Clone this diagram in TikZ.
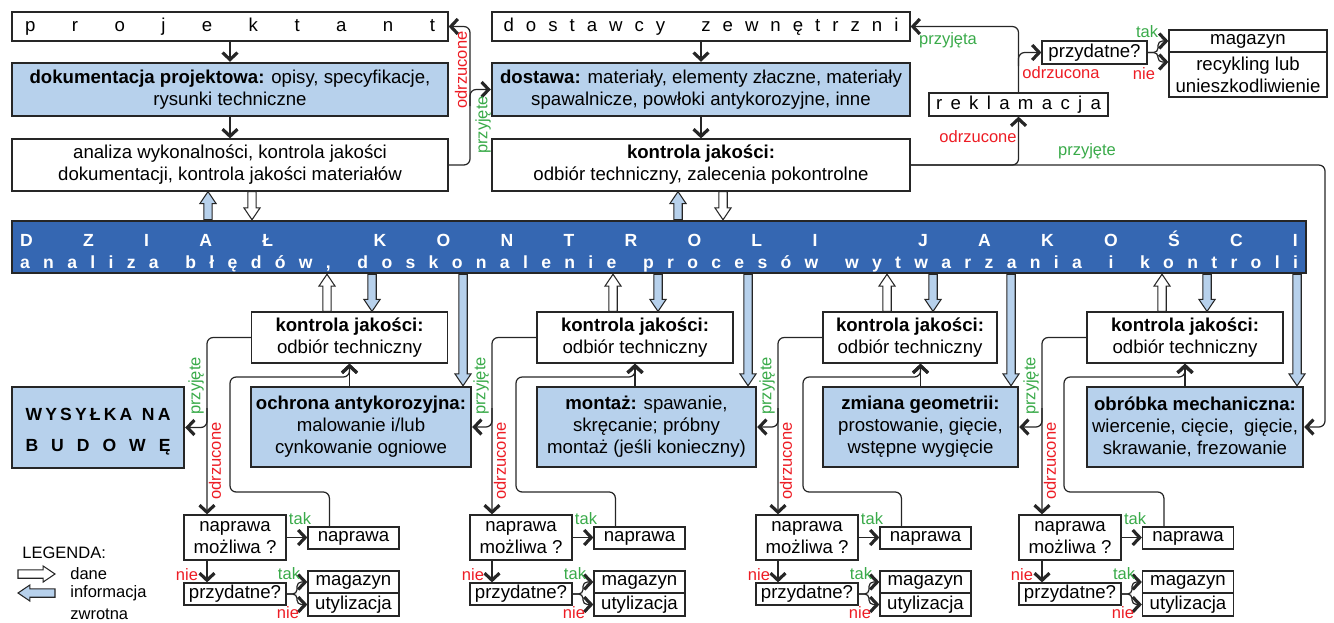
\documentclass[tikz,border=0pt]{standalone}
\usepackage{fontspec}
\setmainfont{Liberation Sans}
\usetikzlibrary{arrows.meta,calc}

\definecolor{lightb}{RGB}{183,209,236}
\definecolor{darkb}{RGB}{53,103,178}
\definecolor{lineg}{RGB}{38,38,38}
\definecolor{okgreen}{RGB}{57,170,73}
\definecolor{nored}{RGB}{237,28,36}

\newcommand\mainfs{\fontsize{10.6}{12.6}\selectfont}
\newcommand\labfs{\fontsize{9.4}{11}\selectfont}

% wide arrow (dane / informacja zwrotna) from #2 to #3
\newcommand\blockarrow[3]{%
  \path[#1] ($(#2)!2.4pt!90:(#3)$)
    -- ($($(#3)!6.8pt!(#2)$)!2.4pt!-90:(#2)$)
    -- ($($(#3)!6.8pt!(#2)$)!4.6pt!-90:(#2)$)
    -- (#3)
    -- ($($(#3)!6.8pt!(#2)$)!4.6pt!90:(#2)$)
    -- ($($(#3)!6.8pt!(#2)$)!2.4pt!90:(#2)$)
    -- ($(#2)!2.4pt!-90:(#3)$) -- cycle;}

\begin{document}
\begin{tikzpicture}[x=0.02cm, y=-0.02cm,
                    box/.style={draw=lineg, line width=0.7pt, fill=white, inner sep=0pt, align=center, font=\mainfs},
                    bluebox/.style={box, fill=lightb, line width=1.4pt},
                    wh/.style 2 args={minimum width=#1*0.02cm, minimum height=#2*0.02cm},
                    flow/.style={draw=lineg, line width=0.7pt, rounded corners=3.5pt,
                                 -{Straight Barb[length=4pt, width=8.5pt, line width=1.8pt]}},
                    oklab/.style={text=okgreen, font=\labfs, inner sep=0pt},
                    badlab/.style={text=nored, font=\labfs, inner sep=0pt},
                    dataarr/.style={draw=lineg, line width=0.6pt, fill=white},
                    fbarr/.style={draw=lineg, line width=0.6pt, fill=lightb}
                ]
\useasboundingbox (0,0) rectangle (1334,622);

% helper coordinates
\path (470,0) coordinate (jx) (1325,0) coordinate (rx0) (1158,0) coordinate (bx0)
      (0,106) coordinate (yj) (0,66) coordinate (yk) (0,62) coordinate (yn0)
      (0,492) coordinate (ylo) (0,377) coordinate (yhi) (0,408) coordinate (ybr)
      (207,0) coordinate (lx1) (492,0) coordinate (lx2) (778,0) coordinate (lx3) (1042,0) coordinate (lx4)
      (230,0) coordinate (rx1) (516,0) coordinate (rx2) (803,0) coordinate (rx3) (1064,0) coordinate (rx4)
      (297,0) coordinate (bx1) (583,0) coordinate (bx2) (869,0) coordinate (bx3) (1132,0) coordinate (bx4)
      (208,0) coordinate (fa1) (252,0) coordinate (da1) (678,0) coordinate (fa2) (723,0) coordinate (da2)
      (327,0) coordinate (dx1) (613,0) coordinate (dx2) (887,0) coordinate (dx3) (1162,0) coordinate (dx4)
      (372,0) coordinate (fx1) (658,0) coordinate (fx2) (933,0) coordinate (fx3) (1207,0) coordinate (fx4)
      (463,0) coordinate (gx1) (748,0) coordinate (gx2) (1011,0) coordinate (gx3) (1297,0) coordinate (gx4);

% top row
\node[box, wh={436}{29}] (proj) at (230,26.5) {\makebox[8.2cm][s]{p r o j e k t a n t}};
\node[bluebox, wh={436}{53}] (dok) at (230,89.5) {\textbf{dokumentacja projektowa:} opisy, specyfikacje,\\ rysunki techniczne};
\node[box, wh={436}{52}] (anal) at (230,165) {analiza wykonalności, kontrola jakości\\ dokumentacji, kontrola jakości materiałów};
\node[box, wh={418}{29}] (dostz) at (701,26.5) {\makebox[7.9cm][s]{d o s t a w c y\ \ \ z e w n ę t r z n i}};
\node[bluebox, wh={418}{53}] (dost) at (701,89.5) {\textbf{dostawa:} materiały, elementy złaczne, materiały\\ spawalnicze, powłoki antykorozyjne, inne};
\node[box, wh={418}{52}] (kjd) at (701,165) {\textbf{kontrola jakości:}\\ odbiór techniczny, zalecenia pokontrolne};
\node[box, wh={179}{23}] (rekl) at (1018.5,104.5) {\makebox[3.3cm][s]{r e k l a m a c j a}};
\node[box, wh={105}{23}] (pz0) at (1094.5,52.5) {przydatne?};
\node[box, wh={158}{22}] (mg0) at (1248,41) {magazyn};
\node[box, wh={158}{45}] (rc0) at (1248,74.5) {recykling lub\\ unieszkodliwienie};

% dzial kontroli
\node[box, fill=darkb, line width=1.4pt, wh={1294}{52}, text=white,
      font=\fontsize{10}{12.6}\selectfont\bfseries] (dzial) at (659,247)
      {\rule{0pt}{14pt}\makebox[25.56cm][s]{D Z I A Ł\ \ K O N T R O L I\ \ J A K O Ś C I}\\
       \makebox[25.56cm][s]{a n a l i z a\ \ b ł ę d ó w ,\ \ d o s k o n a l e n i e\ \ p r o c e s ó w\ \ w y t w a r z a n i a\ \ i\ \ k o n t r o l i}};

% bottom row
\node[box, wh={196}{51}] (kj1) at (349.5,337.5) {\textbf{kontrola jakości:}\\ odbiór techniczny};
\node[box, wh={196}{51}] (kj2) at (635,337.5) {\textbf{kontrola jakości:}\\ odbiór techniczny};
\node[box, wh={174}{51}] (kj3) at (910,337.5) {\textbf{kontrola jakości:}\\ odbiór techniczny};
\node[box, wh={196}{51}] (kj4) at (1185,337.5) {\textbf{kontrola jakości:}\\ odbiór techniczny};

\node[bluebox, wh={172}{81}, font=\fontsize{10}{17.8}\selectfont\bfseries] (wys) at (98,427.5)
      {\rule{0pt}{12pt}\makebox[2.9cm][s]{W\hfill Y\hfill S\hfill Y\hfill Ł\hfill K\hfill A\hfill\hfill\hfill N\hfill A}\\
       \makebox[2.9cm][s]{B\hfill U\hfill D\hfill O\hfill W\hfill Ę}};
\node[bluebox, wh={220}{80}] (ochr) at (361,427) {\textbf{ochrona antykorozyjna:}\\ malowanie i/lub\\ cynkowanie ogniowe};
\node[bluebox, wh={219}{80}] (mont) at (646.5,427) {\textbf{montaż:} spawanie,\\ skręcanie; próbny\\ montaż (jeśli konieczny)};
\node[bluebox, wh={195}{80}] (zmian) at (920.5,427) {\textbf{zmiana geometrii:}\\ prostowanie, gięcie,\\ wstępne wygięcie};
\node[bluebox, wh={216}{80}] (obr) at (1195,427) {\textbf{obróbka mechaniczna:}\\ wiercenie, cięcie,\ \ gięcie,\\ skrawanie, frezowanie};

% naprawy
\node[box, wh={102}{45}] (nm1) at (235,537.5) {naprawa\\ możliwa ?};
\node[box, wh={91}{22}] (np1) at (353.5,538) {naprawa};
\node[box, wh={102}{22}] (pz1) at (235,594) {przydatne?};
\node[box, wh={91}{22}] (mg1) at (353.5,582) {magazyn};
\node[box, wh={91}{23}] (ut1) at (353.5,604.5) {utylizacja};

\node[box, wh={102}{45}] (nm2) at (521,537.5) {naprawa\\ możliwa ?};
\node[box, wh={91}{22}] (np2) at (639.5,538) {naprawa};
\node[box, wh={102}{22}] (pz2) at (521,594) {przydatne?};
\node[box, wh={91}{22}] (mg2) at (639.5,582) {magazyn};
\node[box, wh={91}{23}] (ut2) at (639.5,604.5) {utylizacja};

\node[box, wh={102}{45}] (nm3) at (807,537.5) {naprawa\\ możliwa ?};
\node[box, wh={91}{22}] (np3) at (925.5,538) {naprawa};
\node[box, wh={102}{22}] (pz3) at (807,594) {przydatne?};
\node[box, wh={91}{22}] (mg3) at (925.5,582) {magazyn};
\node[box, wh={91}{23}] (ut3) at (925.5,604.5) {utylizacja};

\node[box, wh={102}{45}] (nm4) at (1070,537.5) {naprawa\\ możliwa ?};
\node[box, wh={91}{22}] (np4) at (1188,538) {naprawa};
\node[box, wh={102}{22}] (pz4) at (1070,594) {przydatne?};
\node[box, wh={91}{22}] (mg4) at (1188,582) {magazyn};
\node[box, wh={91}{23}] (ut4) at (1188,604.5) {utylizacja};

% top connectors
\draw[flow] (proj) -- (dok);
\draw[flow] (dok) -- (anal);
\draw[flow] (anal.east) -| (jx |- proj.east) -- (proj.east);
\draw[flow] (jx |- yj) |- (dost.west);
\draw[flow] (dostz) -- (dost);
\draw[flow] (dost) -- (kjd);
\draw[flow] (kjd.east) -| (rekl.south);
\draw[flow] (kjd.east) -| (rx0 |- obr.east) -- (obr.east);
\draw[flow] (rekl.north) |- (dostz.east);
\draw[flow] (rekl.north |- yk) |- (pz0.west);
\draw[flow, rounded corners=2.5pt] (pz0.east) -| (bx0 |- mg0.west) -- (mg0.west);
\draw[flow, rounded corners=2.5pt] (pz0.east) -| (bx0 |- yn0) -- (rc0.west |- yn0);

\node[badlab, rotate=90] (odA) at (461,70) {odrzucone};
\node[oklab, rotate=90] (prA) at (483,125) {przyjęte};
\node[oklab] (prB) at (948,40) {przyjęta};
\node[badlab] (odB) at (1061,73) {odrzucona};
\node[oklab] (tk0) at (1147,32) {tak};
\node[badlab] (ni0) at (1144,74) {nie};
\node[badlab] (odC) at (978,137) {odrzucone};
\node[oklab] (prC) at (1087,151) {przyjęte};

% wide arrows at dzial kontroli
\blockarrow{fbarr}{dzial.north -| fa1}{anal.south -| fa1}
\blockarrow{dataarr}{anal.south -| da1}{dzial.north -| da1}
\blockarrow{fbarr}{dzial.north -| fa2}{kjd.south -| fa2}
\blockarrow{dataarr}{kjd.south -| da2}{dzial.north -| da2}

\blockarrow{dataarr}{kj1.north -| dx1}{dzial.south -| dx1}
\blockarrow{fbarr}{dzial.south -| fx1}{kj1.north -| fx1}
\blockarrow{fbarr}{dzial.south -| gx1}{ochr.north -| gx1}
\blockarrow{dataarr}{kj2.north -| dx2}{dzial.south -| dx2}
\blockarrow{fbarr}{dzial.south -| fx2}{kj2.north -| fx2}
\blockarrow{fbarr}{dzial.south -| gx2}{mont.north -| gx2}
\blockarrow{dataarr}{kj3.north -| dx3}{dzial.south -| dx3}
\blockarrow{fbarr}{dzial.south -| fx3}{kj3.north -| fx3}
\blockarrow{fbarr}{dzial.south -| gx3}{zmian.north -| gx3}
\blockarrow{dataarr}{kj4.north -| dx4}{dzial.south -| dx4}
\blockarrow{fbarr}{dzial.south -| fx4}{kj4.north -| fx4}
\blockarrow{fbarr}{dzial.south -| gx4}{obr.north -| gx4}

% group 1
\draw[flow] (ochr.north -| kj1.south) -- (kj1.south);
\draw[flow] ($(np1.north west)+(22,0)$) |- (rx1 |- ylo) -- (rx1 |- yhi) -| (kj1.south);
\draw[flow] (kj1.west) -| (nm1.north -| lx1);
\draw[flow] (lx1 |- ybr) |- (wys.east);
\draw[flow] (nm1.south -| lx1) -- (pz1.north -| lx1);
\draw[flow] (nm1.east) -- (nm1.east -| np1.west);
\draw[flow, rounded corners=2.5pt] (pz1.east) -| (bx1 |- mg1.west) -- (mg1.west);
\draw[flow, rounded corners=2.5pt] (pz1.east) -| (bx1 |- ut1.west) -- (ut1.west);
\node[oklab, rotate=90] (pj1) at (196,386) {przyjęte};
\node[badlab, rotate=90] (od1) at (215,461) {odrzucone};
\node[oklab] (tka1) at (300,519) {tak};
\node[badlab] (nia1) at (187,575) {nie};
\node[oklab] (tkb1) at (289,574) {tak};
\node[badlab] (nib1) at (288,613) {nie};

% group 2
\draw[flow] (mont.north -| kj2.south) -- (kj2.south);
\draw[flow] ($(np2.north west)+(22,0)$) |- (rx2 |- ylo) -- (rx2 |- yhi) -| (kj2.south);
\draw[flow] (kj2.west) -| (nm2.north -| lx2);
\draw[flow] (lx2 |- ybr) |- (ochr.east);
\draw[flow] (nm2.south -| lx2) -- (pz2.north -| lx2);
\draw[flow] (nm2.east) -- (nm2.east -| np2.west);
\draw[flow, rounded corners=2.5pt] (pz2.east) -| (bx2 |- mg2.west) -- (mg2.west);
\draw[flow, rounded corners=2.5pt] (pz2.east) -| (bx2 |- ut2.west) -- (ut2.west);
\node[oklab, rotate=90] (pj2) at (481,386) {przyjęte};
\node[badlab, rotate=90] (od2) at (500,461) {odrzucone};
\node[oklab] (tka2) at (586,519) {tak};
\node[badlab] (nia2) at (473,575) {nie};
\node[oklab] (tkb2) at (575,574) {tak};
\node[badlab] (nib2) at (574,613) {nie};

% group 3
\draw[flow] (zmian.north) -- (zmian.north |- kj3.south);
\draw[flow] ($(np3.north west)+(22,0)$) |- (rx3 |- ylo) -- (rx3 |- yhi) -| (zmian.north |- kj3.south);
\draw[flow] (kj3.west) -| (nm3.north -| lx3);
\draw[flow] (lx3 |- ybr) |- (mont.east);
\draw[flow] (nm3.south -| lx3) -- (pz3.north -| lx3);
\draw[flow] (nm3.east) -- (nm3.east -| np3.west);
\draw[flow, rounded corners=2.5pt] (pz3.east) -| (bx3 |- mg3.west) -- (mg3.west);
\draw[flow, rounded corners=2.5pt] (pz3.east) -| (bx3 |- ut3.west) -- (ut3.west);
\node[oklab, rotate=90] (pj3) at (767,386) {przyjęte};
\node[badlab, rotate=90] (od3) at (786,461) {odrzucone};
\node[oklab] (tka3) at (872,519) {tak};
\node[badlab] (nia3) at (759,575) {nie};
\node[oklab] (tkb3) at (861,574) {tak};
\node[badlab] (nib3) at (860,613) {nie};

% group 4
\draw[flow] (obr.north -| kj4.south) -- (kj4.south);
\draw[flow] ($(np4.north west)+(22,0)$) |- (rx4 |- ylo) -- (rx4 |- yhi) -| (kj4.south);
\draw[flow] (kj4.west) -| (nm4.north -| lx4);
\draw[flow] (lx4 |- ybr) |- (zmian.east);
\draw[flow] (nm4.south -| lx4) -- (pz4.north -| lx4);
\draw[flow] (nm4.east) -- (nm4.east -| np4.west);
\draw[flow, rounded corners=2.5pt] (pz4.east) -| (bx4 |- mg4.west) -- (mg4.west);
\draw[flow, rounded corners=2.5pt] (pz4.east) -| (bx4 |- ut4.west) -- (ut4.west);
\node[oklab, rotate=90] (pj4) at (1031,386) {przyjęte};
\node[badlab, rotate=90] (od4) at (1050,461) {odrzucone};
\node[oklab] (tka4) at (1135,519) {tak};
\node[badlab] (nia4) at (1022,575) {nie};
\node[oklab] (tkb4) at (1124,574) {tak};
\node[badlab] (nib4) at (1123,613) {nie};

% legenda
\node[anchor=west, font=\labfs, inner sep=0pt] (leg) at (22,553) {LEGENDA:};
\path (18,574) coordinate (la) (55,574) coordinate (lb) (55,593) coordinate (lc) (18,593) coordinate (ld);
\blockarrow{dataarr}{la}{lb}
\blockarrow{fbarr}{lc}{ld}
\node[anchor=west, font=\labfs, inner sep=0pt] (leg1) at (70,574) {dane};
\node[anchor=west, font=\labfs, inner sep=0pt] (leg2) at (70,593) {informacja};
\node[anchor=west, font=\labfs, inner sep=0pt] (leg3) at (70,614) {zwrotna};
\end{tikzpicture}
\end{document}
